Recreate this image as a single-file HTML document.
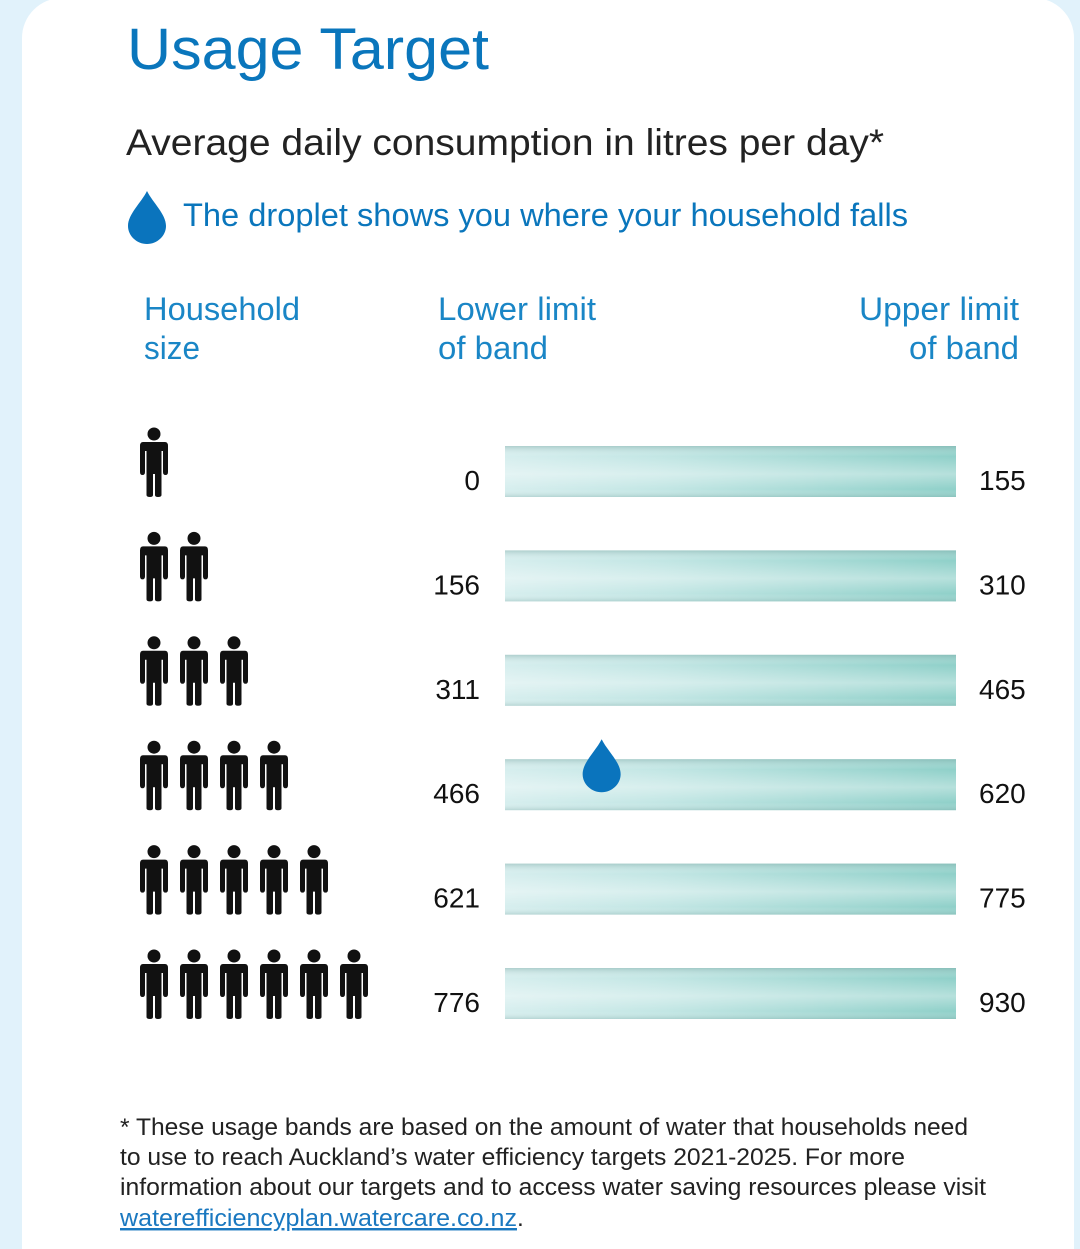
<!DOCTYPE html>
<html><head><meta charset="utf-8">
<style>
html,body{margin:0;padding:0;background:#e1f2fb;width:1080px;height:1249px;overflow:hidden;}
body{position:relative;font-family:"Liberation Sans",sans-serif;}
#card{position:absolute;left:22px;top:-2px;width:1052px;height:1251px;background:#fff;border-radius:40px 40px 0 0;}
svg{position:absolute;left:0;top:0;}
</style></head>
<body>
<div id="card"></div>
<svg id="chart" width="1080" height="1249" viewBox="0 0 1080 1249">
<defs>
<linearGradient id="hg" x1="0" x2="1" y1="0" y2="0">
<stop offset="0" stop-color="#d6eeee"/><stop offset="0.35" stop-color="#c2e6e4"/><stop offset="1" stop-color="#8fd0c9"/>
</linearGradient>
<linearGradient id="vg" x1="0" x2="0" y1="0" y2="1">
<stop offset="0" stop-color="#7fa9a6" stop-opacity="0.45"/><stop offset="0.2" stop-color="#ffffff" stop-opacity="0"/>
<stop offset="0.55" stop-color="#ffffff" stop-opacity="0.35"/><stop offset="0.85" stop-color="#ffffff" stop-opacity="0"/>
<stop offset="1" stop-color="#7fa9a6" stop-opacity="0.35"/>
</linearGradient>
<path id="drop" d="M0,-27 C6,-15 19,-4 19,8 C19,18 10,26 0,26 C-10,26 -19,18 -19,8 C-19,-4 -6,-15 0,-27 Z" fill="#0a74bd"/>
<g id="person">
<circle cx="14" cy="7" r="6.5" fill="#111"/>
<path d="M3,15 L25,15 Q28,15 28,19 L28,45 Q28,48 25.5,48 Q23,48 23,45 L23,24 L21.5,24 L21.5,68 Q21.5,70 18,70 Q15,70 15,68 L15,47 L13,47 L13,68 Q13,70 10,70 Q6.5,70 6.5,68 L6.5,24 L5,24 L5,45 Q5,48 2.5,48 Q0,48 0,45 L0,19 Q0,15 3,15 Z" fill="#111"/>
</g>
</defs>
<text x="127" y="69" font-size="58" fill="#0a76bc" textLength="362" lengthAdjust="spacingAndGlyphs">Usage Target</text>
<text x="126" y="155" font-size="37" fill="#222" textLength="758" lengthAdjust="spacingAndGlyphs">Average daily consumption in litres per day*</text>
<use href="#drop" transform="translate(147,218)"/>
<text x="183" y="226" font-size="32" fill="#0a76bc" textLength="725" lengthAdjust="spacingAndGlyphs">The droplet shows you where your household falls</text>
<g fill="#1a86c6" font-size="32">
<text x="144" y="320" textLength="156" lengthAdjust="spacingAndGlyphs">Household</text>
<text x="144" y="359" textLength="56" lengthAdjust="spacingAndGlyphs">size</text>
<text x="438" y="320" textLength="158" lengthAdjust="spacingAndGlyphs">Lower limit</text>
<text x="438" y="359" textLength="110" lengthAdjust="spacingAndGlyphs">of band</text>
<text x="1019" y="320" text-anchor="end" textLength="160" lengthAdjust="spacingAndGlyphs">Upper limit</text>
<text x="1019" y="359" text-anchor="end" textLength="110" lengthAdjust="spacingAndGlyphs">of band</text>
</g>
<g id="rows"></g>
<g font-size="24.5" fill="#222">
<text x="120" y="1135" textLength="848" lengthAdjust="spacingAndGlyphs">* These usage bands are based on the amount of water that households need</text>
<text x="120" y="1165" textLength="785" lengthAdjust="spacingAndGlyphs">to use to reach Auckland’s water efficiency targets 2021-2025. For more</text>
<text x="120" y="1195" textLength="866" lengthAdjust="spacingAndGlyphs">information about our targets and to access water saving resources please visit</text>
<text x="120" y="1226" fill="#1a78c0" textLength="397" lengthAdjust="spacingAndGlyphs" text-decoration="underline">waterefficiencyplan.watercare.co.nz</text>
<text x="517" y="1226">.</text>
</g>
</svg>
<script>
const householdSizes = [1, 2, 3, 4, 5, 6];
const lowerLimits = [0, 156, 311, 466, 621, 776];
const upperLimits = [155, 310, 465, 620, 775, 930];
const householdSizeIndex = 3;
const householdUsage = 499;

const NS = "http://www.w3.org/2000/svg";
const rows = document.getElementById("rows");
const barX0 = 505, barX1 = 956, barH = 51, rowTop0 = 446, rowStep = 104.4;
function rowTop(i){ return rowTop0 + i * rowStep; }
function xScale(i, v){ return barX0 + (v - lowerLimits[i]) / (upperLimits[i] - lowerLimits[i]) * (barX1 - barX0); }

householdSizes.forEach((n, i) => {
  const top = rowTop(i);
  for (let k = 0; k < n; k++) {
    const u = document.createElementNS(NS, "use");
    u.setAttribute("href", "#person");
    u.setAttribute("transform", `translate(${140 + k * 40},${top - 19})`);
    
    
    rows.appendChild(u);
  }
  const g = document.createElementNS(NS, "g");
  
  
  const w = xScale(i, upperLimits[i]) - xScale(i, lowerLimits[i]);
  ["url(#hg)", "url(#vg)"].forEach(f => {
    const r = document.createElementNS(NS, "rect");
    r.setAttribute("x", xScale(i, lowerLimits[i]));
    r.setAttribute("y", top);
    r.setAttribute("width", w);
    r.setAttribute("height", barH);
    r.setAttribute("fill", f);
    g.appendChild(r);
  });
  rows.appendChild(g);
  const lo = document.createElementNS(NS, "text");
  lo.setAttribute("x", 480); lo.setAttribute("y", top + 44);
  lo.setAttribute("text-anchor", "end"); lo.setAttribute("font-size", "28"); lo.setAttribute("fill", "#111");
  lo.textContent = lowerLimits[i];
  
  
  rows.appendChild(lo);
  const hi = document.createElementNS(NS, "text");
  hi.setAttribute("x", 979); hi.setAttribute("y", top + 44);
  hi.setAttribute("font-size", "28"); hi.setAttribute("fill", "#111");
  hi.textContent = upperLimits[i];
  
  
  rows.appendChild(hi);
});
const d = document.createElementNS(NS, "use");
d.setAttribute("href", "#drop");
d.setAttribute("transform", `translate(${xScale(householdSizeIndex, householdUsage)},${rowTop(householdSizeIndex) + 7})`);


rows.appendChild(d);
</script>
</body></html>
